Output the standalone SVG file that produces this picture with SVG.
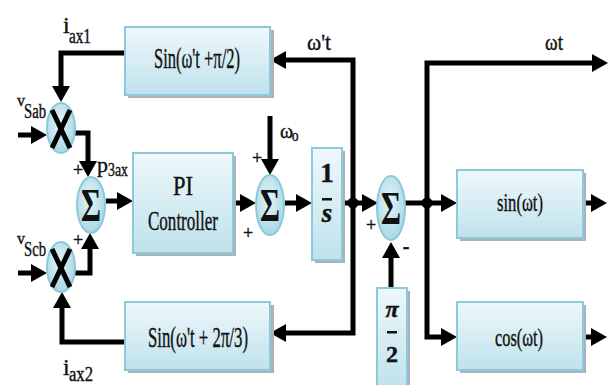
<svg xmlns="http://www.w3.org/2000/svg" width="610" height="385" viewBox="0 0 610 385">
<defs>
<linearGradient id="bg" x1="0" y1="0" x2="0" y2="1">
<stop offset="0" stop-color="#eef8fb"/>
<stop offset="1" stop-color="#bfe2ec"/>
</linearGradient>
<radialGradient id="eg" cx="0.45" cy="0.4" r="0.7">
<stop offset="0" stop-color="#e4f4f8"/>
<stop offset="1" stop-color="#9fd3e2"/>
</radialGradient>
<marker id="ah" markerUnits="userSpaceOnUse" markerWidth="17" markerHeight="18" refX="11" refY="9" orient="auto">
<path d="M0,0 L16,9 L0,18 z" fill="#000"/>
</marker>
<style>
.box{fill:url(#bg);stroke:#8ccadb;stroke-width:2}
.sh{fill:#aab4b8}
.el{fill:url(#eg);stroke:#8ccadb;stroke-width:2}
.ln{fill:none;stroke:#000;stroke-width:5;marker-end:url(#ah)}
.t{font-family:"Liberation Serif","Times New Roman",serif;fill:#111;stroke:#111;stroke-width:0.4}
.sg{font-family:"Liberation Serif","Times New Roman",serif;font-weight:bold;fill:#111}
.x{stroke:#000;stroke-width:5}
</style>
</defs>
<rect width="610" height="385" fill="#fff"/>

<g id="connectors">
<path class="ln" d="M125,53 H61 V97"/>
<path class="ln" d="M18,135 H42"/>
<path class="ln" d="M75,133 H88 V172"/>
<path class="ln" d="M18,273 H42"/>
<path class="ln" d="M75,273 H90 V238"/>
<path class="ln" d="M106,201 H128"/>
<path class="ln" d="M233,203 H251"/>
<path class="ln" d="M270,116 V170"/>
<path class="ln" d="M285,203 H307"/>
<path class="ln" d="M342,203 H373"/>
<path class="ln" d="M353,203 V60 H275"/>
<path class="ln" d="M353,203 V333 H275"/>
<path class="ln" d="M405,203 H452"/>
<path class="ln" d="M427,203 V63 H603"/>
<path class="ln" d="M427,203 V337 H452"/>
<path class="ln" d="M583,203 H602"/>
<path class="ln" d="M583,337 H602"/>
<path class="ln" d="M391,288 V247"/>
<path class="ln" d="M125,342 H62 V297"/>
<circle cx="353" cy="203" r="5.5"/>
<circle cx="427" cy="203" r="5.5"/>
</g>

<g id="sin_top">
<rect class="sh" x="128" y="30" width="146" height="68"/>
<rect class="box" x="125" y="27" width="145" height="68"/>
<text class="t" x="197" y="68" font-size="30" text-anchor="middle" textLength="86" lengthAdjust="spacingAndGlyphs">Sin(ω't +π/2)</text>
</g>

<g id="sin_bot">
<rect class="sh" x="128" y="305" width="146" height="68"/>
<rect class="box" x="125" y="302" width="145" height="68"/>
<text class="t" x="198" y="347" font-size="30" text-anchor="middle" textLength="100" lengthAdjust="spacingAndGlyphs">Sin(ω't + 2π/3)</text>
</g>

<g id="pi">
<rect class="sh" x="136" y="156" width="100" height="100"/>
<rect class="box" x="133" y="153" width="100" height="100"/>
<text class="t" x="183" y="195" font-size="27" text-anchor="middle" textLength="20" lengthAdjust="spacingAndGlyphs">PI</text>
<text class="t" x="183" y="230" font-size="27" text-anchor="middle" textLength="70" lengthAdjust="spacingAndGlyphs">Controller</text>
</g>

<g id="integ">
<rect class="sh" x="315" y="151" width="30" height="112"/>
<rect class="box" x="312" y="148" width="30" height="112"/>
<text class="t" x="327" y="182" font-size="27" font-weight="bold" text-anchor="middle">1</text>
<rect x="322" y="198" width="10" height="2.5" fill="#111"/>
<text class="t" x="327" y="222" font-size="27" font-weight="bold" font-style="italic" text-anchor="middle">s</text>
</g>

<g id="pi2">
<rect class="sh" x="380" y="291" width="30" height="100"/>
<rect class="box" x="377" y="288" width="30" height="100"/>
<text class="t" x="392" y="317" font-size="24" font-weight="bold" font-style="italic" text-anchor="middle">π</text>
<rect x="387" y="331" width="10" height="2.5" fill="#111"/>
<text class="t" x="392" y="362" font-size="24" font-weight="bold" text-anchor="middle">2</text>
</g>

<g id="sinwt">
<rect class="sh" x="460" y="173" width="126" height="68"/>
<rect class="box" x="457" y="170" width="126" height="68"/>
<text class="t" x="520" y="211" font-size="26" text-anchor="middle" textLength="46" lengthAdjust="spacingAndGlyphs">sin(ωt)</text>
</g>

<g id="coswt">
<rect class="sh" x="460" y="305" width="126" height="68"/>
<rect class="box" x="457" y="302" width="126" height="68"/>
<text class="t" x="519" y="346" font-size="26" text-anchor="middle" textLength="48" lengthAdjust="spacingAndGlyphs">cos(ωt)</text>
</g>

<g id="mult1">
<ellipse class="el" cx="61" cy="128" rx="14" ry="25"/>
<line class="x" x1="52" y1="110" x2="70" y2="148"/>
<line class="x" x1="70" y1="110" x2="52" y2="148"/>
</g>

<g id="mult2">
<ellipse class="el" cx="61" cy="267" rx="14" ry="25"/>
<line class="x" x1="52" y1="249" x2="70" y2="287"/>
<line class="x" x1="70" y1="249" x2="52" y2="287"/>
</g>

<g id="sum1">
<ellipse class="el" cx="91" cy="205" rx="14" ry="28"/>
<text class="sg" x="91" y="221" font-size="46" text-anchor="middle" textLength="20" lengthAdjust="spacingAndGlyphs">Σ</text>
</g>

<g id="sum2">
<ellipse class="el" cx="270" cy="205" rx="14" ry="30"/>
<text class="sg" x="270" y="221" font-size="46" text-anchor="middle" textLength="20" lengthAdjust="spacingAndGlyphs">Σ</text>
</g>

<g id="sum3">
<ellipse class="el" cx="391" cy="208" rx="14" ry="32"/>
<text class="sg" x="391" y="224" font-size="46" text-anchor="middle" textLength="20" lengthAdjust="spacingAndGlyphs">Σ</text>
</g>

<g id="labels">
<text class="t" x="63" y="33" font-size="24">i</text>
<text class="t" x="69" y="43" font-size="20" textLength="22" lengthAdjust="spacingAndGlyphs">ax1</text>
<text class="t" x="17" y="106" font-size="16">v</text>
<text class="t" x="24" y="118" font-size="20" textLength="22" lengthAdjust="spacingAndGlyphs">Sab</text>
<text class="t" x="17" y="244" font-size="16">v</text>
<text class="t" x="24" y="256" font-size="20" textLength="22" lengthAdjust="spacingAndGlyphs">Scb</text>
<text class="t" x="63" y="375" font-size="24">i</text>
<text class="t" x="69" y="381" font-size="20" textLength="24" lengthAdjust="spacingAndGlyphs">ax2</text>
<text class="t" x="97" y="172" font-size="22">p</text>
<text class="t" x="108" y="176" font-size="18" textLength="20" lengthAdjust="spacingAndGlyphs">3ax</text>
<text class="t" x="280" y="138" font-size="20">ω</text>
<text class="t" x="292" y="141" font-size="13">0</text>
<text class="t" x="307" y="50" font-size="24" textLength="24" lengthAdjust="spacingAndGlyphs">ω't</text>
<text class="t" x="545" y="50" font-size="24" textLength="18" lengthAdjust="spacingAndGlyphs">ωt</text>
<text class="t" x="78" y="176" font-size="18" text-anchor="middle">+</text>
<text class="t" x="78" y="246" font-size="18" text-anchor="middle">+</text>
<text class="t" x="257" y="164" font-size="18" text-anchor="middle">+</text>
<text class="t" x="248" y="239" font-size="18" text-anchor="middle">+</text>
<text class="t" x="371" y="231" font-size="18" text-anchor="middle">+</text>
<text class="t" x="406" y="253" font-size="20" font-weight="bold" text-anchor="middle">-</text>
</g>
</svg>
